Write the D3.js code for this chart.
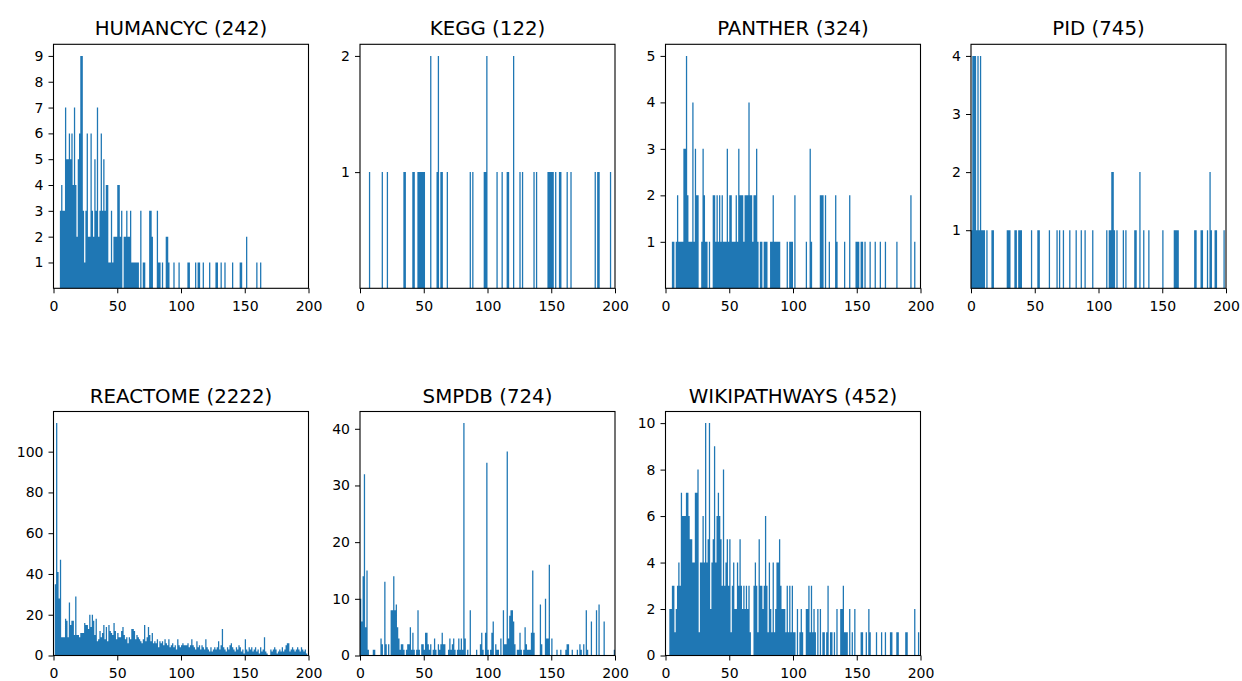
<!DOCTYPE html>
<html>
<head>
<meta charset="utf-8">
<script src="https://cdn.jsdelivr.net/npm/d3@7"></script>
<style>
  body { margin: 0; background: #fff; }
  text { font-family: "DejaVu Sans", sans-serif; fill: #000; }
</style>
</head>
<body>
<div id="chart"></div>
<script>
// counts per bin, bins of width 1 from 0 to 200
const humancyc = [
  0,0,0,0,0,3,4,3,3,7,   5,5,6,5,6,4,7,4,2,5,   6,9,9,3,1,3,6,2,2,6,   3,2,5,3,7,2,3,6,3,5,
  3,4,4,1,1,3,1,2,2,2,   4,4,2,3,0,2,2,3,2,2,   3,1,1,1,1,1,1,0,3,0,   1,1,0,0,0,3,3,2,0,0,
  0,3,1,1,0,1,0,0,2,2,   1,0,0,0,1,0,0,0,1,0,   0,0,0,0,0,1,1,0,0,0,   0,1,0,1,1,0,0,1,0,0,
  0,0,1,0,0,0,0,1,1,0,   0,1,0,0,1,0,0,0,0,0,   1,0,0,0,0,0,1,1,0,0,   0,2,0,0,0,0,0,0,0,1,
  0,0,1,0,0,0,0,0,0,0,   0,0,0,0,0,0,0,0,0,0,   0,0,0,0,0,0,0,0,0,0,   0,0,0,0,0,0,0,0,0,0
];
const kegg = [
  0,0,0,0,0,0,0,1,0,0,   0,0,0,0,0,0,0,1,0,0,   0,1,0,0,0,0,0,0,0,0,   0,0,0,0,1,1,0,0,0,0,
  0,1,1,0,0,1,1,1,1,1,   1,0,0,0,0,2,0,0,0,0,   1,2,0,1,1,0,0,0,1,0,   0,0,0,0,0,0,0,0,0,0,
  0,0,0,0,0,0,1,0,1,0,   0,0,0,0,0,0,0,1,1,2,   0,0,0,0,0,0,0,1,0,0,   0,1,0,0,0,1,1,0,0,0,
  2,0,0,0,0,1,0,1,0,0,   0,0,0,0,0,0,1,0,1,0,   0,0,0,0,0,0,0,1,1,1,   1,1,0,1,0,0,1,1,0,0,
  0,0,1,0,0,1,0,0,0,0,   0,0,0,0,0,0,0,0,0,0,   0,0,0,0,1,0,1,1,0,0,   0,0,0,0,0,0,1,0,0,0
];
const panther = [
  0,0,0,0,0,1,1,0,1,2,   1,1,1,1,3,3,5,2,1,1,   1,4,1,3,2,2,0,0,1,3,   2,1,1,0,1,0,0,2,2,1,
  2,1,2,1,2,1,1,1,3,1,   2,2,1,1,1,2,1,3,2,2,   2,1,2,2,2,4,2,2,1,2,   2,3,1,0,1,1,0,1,1,1,
  0,0,1,1,2,1,1,1,1,1,   0,0,0,0,0,1,0,1,1,1,   0,2,0,0,0,0,0,0,0,0,   1,0,0,3,1,0,0,0,0,0,
  0,2,2,2,0,2,0,0,1,0,   0,0,0,2,1,0,0,0,0,0,   1,0,0,0,2,0,0,0,0,1,   1,1,0,1,1,0,1,0,0,0,
  1,0,0,0,1,0,0,0,1,0,   0,0,1,0,0,0,0,0,0,0,   0,1,0,0,0,0,0,0,0,0,   0,0,2,0,0,1,0,0,0,0
];
const pid = [
  1,4,4,4,1,4,1,4,1,1,   1,0,1,0,0,0,1,1,0,0,   0,0,0,0,0,0,0,0,1,1,   1,0,0,0,1,1,0,1,1,1,
  0,0,0,0,0,0,0,1,0,0,   0,0,1,1,0,0,0,0,0,0,   0,1,0,0,0,0,0,1,0,1,   0,0,1,0,0,0,0,1,0,0,
  0,0,1,0,0,0,1,0,0,1,   0,0,0,0,0,1,0,0,0,0,   0,0,0,0,0,0,1,0,1,1,   2,2,1,0,1,0,0,0,0,1,
  0,1,0,0,0,0,0,0,1,1,   0,0,2,0,0,1,0,0,0,1,   0,0,0,0,0,0,0,0,0,0,   1,0,0,0,0,0,0,0,0,1,
  1,1,1,0,0,0,0,0,0,0,   0,0,0,0,0,1,1,0,0,0,   1,1,0,0,0,1,0,2,1,0,   0,1,1,0,0,0,0,0,1,0
];
const reactome = [
  0,35,114,41,28,47,9,9,9,18,   17,9,26,15,17,17,10,29,10,10,   9,11,11,11,16,15,15,13,20,14,   20,17,10,18,7,8,12,9,11,15,
  8,14,7,15,12,11,10,16,12,8,   11,9,9,12,14,10,8,9,6,9,   8,13,13,12,8,10,9,8,7,6,   8,15,7,9,14,10,7,11,6,7,
  6,8,4,7,6,7,5,8,6,5,   8,4,5,6,4,5,3,8,5,4,   5,6,5,5,5,6,4,5,8,5,   4,3,7,4,5,3,5,4,3,8,
  4,3,2,4,2,3,4,3,4,7,   3,5,13,4,3,2,4,3,5,6,   4,3,2,4,3,5,4,2,3,1,   8,3,2,4,3,4,2,3,4,2,
  3,1,4,2,3,9,2,1,0,0,   3,2,3,4,3,1,2,3,2,4,   2,3,5,6,6,2,3,4,3,2,   3,4,3,2,4,3,2,3,1,0
];
const smpdb = [
  10,6,14,32,5,15,1,0,0,0,   1,1,0,0,0,0,3,2,0,13,   2,0,2,0,8,8,14,8,9,5,   3,1,2,2,1,0,1,2,2,5,
  1,4,1,0,1,8,1,0,2,2,   1,4,4,2,1,2,0,1,3,1,   0,2,1,2,4,2,2,0,0,1,   3,1,2,3,1,0,1,3,1,3,
  1,41,3,0,1,0,8,0,0,0,   0,1,0,0,2,4,1,0,4,34,   1,0,1,4,6,0,2,1,1,0,   3,0,8,2,2,36,3,7,8,8,
  6,2,0,1,1,4,1,0,1,5,   2,1,1,1,4,15,4,0,0,0,   0,9,2,0,0,10,3,3,16,0,   3,0,0,0,1,0,0,1,0,0,
  0,1,2,2,0,0,1,0,0,0,   1,0,2,1,0,2,0,8,1,0,   0,6,0,0,0,8,0,9,0,0,   0,6,0,0,0,0,0,0,0,1
];
const wikipathways = [
  0,0,0,2,2,3,3,1,2,3,   4,3,7,6,6,6,7,7,6,5,   5,4,4,7,7,8,1,4,4,6,   4,10,4,5,10,2,4,5,9,4,
  6,7,6,5,3,8,3,4,5,3,   5,1,3,4,2,2,4,3,5,3,   2,3,2,3,2,3,1,0,0,3,   4,3,1,5,3,3,2,3,6,3,
  1,4,2,1,4,1,2,4,4,5,   3,2,2,2,1,3,1,3,1,3,   1,1,0,2,0,1,2,1,0,0,   2,2,3,1,3,1,2,1,0,2,
  0,2,0,1,1,0,1,3,0,1,   1,0,1,0,2,0,0,2,2,3,   1,1,1,0,2,0,1,0,2,0,   0,0,0,1,1,0,0,1,0,2,
  1,0,0,0,0,1,0,0,0,1,   0,0,1,0,0,0,1,1,0,0,   0,1,1,0,0,0,0,0,1,1,   0,0,0,0,0,2,0,0,1,0
];

const names = ["HUMANCYC", "KEGG", "PANTHER", "PID", "REACTOME", "SMPDB", "WIKIPATHWAYS"];
const totals = [242, 122, 324, 745, 2222, 724, 452];
const series = [humancyc, kegg, panther, pid, reactome, smpdb, wikipathways];
const xTicks = [0, 50, 100, 150, 200];

const WIDTH = 1242, HEIGHT = 681;
const PW = 255, PH = 244;
const colLeft = [53.5, 360, 665.5, 971];
const rowTop = [44.3, 411.5];
const BLUE = "#1f77b4";

const svg = d3.select("#chart").append("svg")
  .attr("width", WIDTH)
  .attr("height", HEIGHT);

function histPanel(i) {
  var counts = series[i];
  var row = Math.floor(i / 4), col = i % 4;
  var topRow = row === 0;
  var maxC = d3.max(counts);

  var x = d3.scaleLinear().domain([0, 200]).range([0, PW]);
  var y = d3.scaleLinear().domain([0, maxC * 1.05]).range([PH, 0]);

  var g = svg.append("g")
    .attr("transform", "translate(" + colLeft[col] + "," + rowTop[row] + ")");

  // one step-shaped path per panel so neighbouring bins don't show seams
  var pts = counts.map(function(c, k) { return {bin: k, count: c}; });
  pts.push({bin: counts.length, count: 0});

  var area = d3.area()
    .x(function(d) { return x(d.bin); })
    .y0(y(0))
    .y1(function(d) { return y(d.count); })
    .curve(d3.curveStepAfter);

  g.append("path")
    .datum(pts)
    .attr("class", "hist")
    .attr("d", area)
    .attr("fill", BLUE);

  // top row only labels from 1 upwards
  var yTickVals = topRow ? d3.range(1, maxC + 1) : y.ticks(5);

  var xAxis = g.append("g")
    .attr("transform", "translate(0," + PH + ")")
    .call(d3.axisBottom(x).tickValues(xTicks).tickFormat(d3.format("d")).tickSize(5).tickPadding(8));
  var yAxis = g.append("g")
    .call(d3.axisLeft(y).tickValues(yTickVals).tickFormat(d3.format("d")).tickSize(5).tickPadding(5));

  [xAxis, yAxis].forEach(function(a) {
    a.select(".domain").remove();
    a.selectAll(".tick line").attr("stroke", "#000").attr("stroke-width", 1);
    a.selectAll(".tick text").attr("font-size", "14px").attr("font-family", "DejaVu Sans").attr("fill", "#000");
  });

  g.append("rect")
    .attr("x", 0).attr("y", 0)
    .attr("width", PW).attr("height", PH)
    .attr("fill", "none")
    .attr("stroke", "#000")
    .attr("stroke-width", 1.1);

  g.append("text")
    .attr("x", PW / 2)
    .attr("y", -9)
    .attr("text-anchor", "middle")
    .attr("font-size", "19.8px")
    .text(names[i] + " (" + totals[i] + ")");
}

for (var i = 0; i < series.length; i++) {
  histPanel(i);
}
</script>
</body>
</html>
